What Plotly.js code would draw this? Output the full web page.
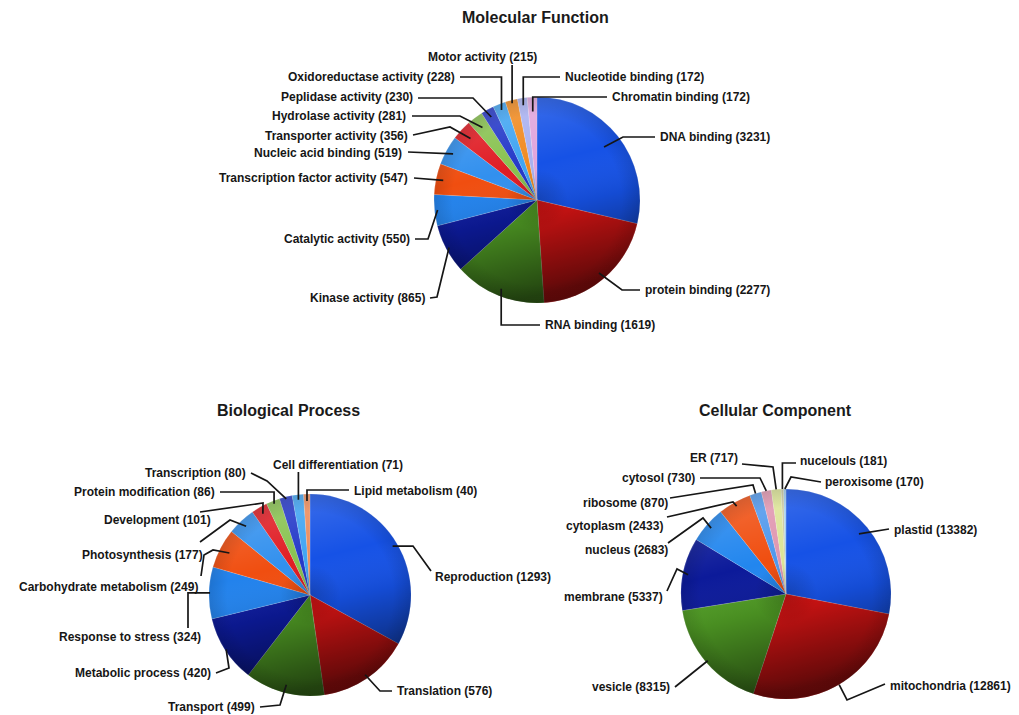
<!DOCTYPE html>
<html>
<head>
<meta charset="utf-8">
<script src="https://cdn.plot.ly/plotly-3.0.1.min.js"></script>
<style>
  html, body { margin: 0; padding: 0; background: #ffffff; }
  #chart { width: 1019px; height: 715px; }
</style>
</head>
<body>
<div id="chart"></div>
<script>
// ---- Data: GO category counts ----
const mfLabels = ['DNA binding', 'protein binding', 'RNA binding', 'Kinase activity', 'Catalytic activity',
  'Transcription factor activity', 'Nucleic acid binding', 'Transporter activity', 'Hydrolase activity',
  'Peplidase activity', 'Oxidoreductase activity', 'Motor activity', 'Nucleotide binding', 'Chromatin binding'];
const mfValues = [3231, 2277, 1619, 865, 550, 547, 519, 356, 281, 230, 228, 215, 172, 172];

const bpLabels = ['Reproduction', 'Translation', 'Transport', 'Metabolic process', 'Response to stress',
  'Carbohydrate metabolism', 'Photosynthesis', 'Development', 'Protein modification', 'Transcription',
  'Cell differentiation', 'Lipid metabolism'];
const bpValues = [1293, 576, 499, 420, 324, 249, 177, 101, 86, 80, 71, 40];

const ccLabels = ['plastid', 'mitochondria', 'vesicle', 'membrane', 'nucleus', 'cytoplasm', 'ribosome',
  'cytosol', 'ER', 'nucelouls', 'peroxisome'];
const ccValues = [13382, 12861, 8315, 5337, 2683, 2433, 870, 730, 717, 181, 170];

const panelTitles = ['Molecular Function', 'Biological Process', 'Cellular Component'];

// ---- Styles ----
const mfColors = ['#1652e6', '#d81414', '#4f9a24', '#0c1a9a', '#2282ec', '#f04e10', '#3290ee', '#e01c24',
  '#88c250', '#2438c8', '#40a4f2', '#f08a20', '#a8b0f0', '#e0a4dc'];
const bpColors = ['#1652e6', '#d81414', '#4f9a24', '#0c1a9a', '#2282ec', '#f04e10', '#3290ee', '#e01c24',
  '#88c250', '#2438c8', '#40a4f2', '#ec8c5c'];
const ccColors = ['#1652e6', '#d81414', '#4f9a24', '#0c1a9a', '#2286ee', '#f04e10', '#5098ec', '#e096b0',
  '#dce496', '#c8c8a0', '#98c8ee'];

const W = 1019, H = 715;
const FONT = 'Liberation Sans, Arial, Helvetica, sans-serif';

// pie placement in pixels (centre and radius)
const pies = [
  { cx: 537, cy: 200, r: 103 },
  { cx: 310, cy: 595, r: 101 },
  { cx: 786, cy: 594, r: 105 }
];
const titlePos = [[535, 17], [288, 410], [775, 410]];

// label placement: text position, side the text hangs from, leader start, bends, depth into slice
// 'ax' in a bend means "x of the slice anchor", 'ay' means "y of the slice anchor"
const mfPlace = [
  { tx: 658, ty: 137, side: 'left',  s: [655, 137], via: [[623, 137]], f: 0.83 },
  { tx: 643, ty: 290, side: 'left',  s: [640, 290], via: [[622, 290]], f: 0.93 },
  { tx: 543, ty: 325, side: 'left',  s: [540, 325], via: [['ax', 325]], f: 0.93 },
  { tx: 427, ty: 298, side: 'right', s: [430, 298], via: [[437, 297]], f: 0.97 },
  { tx: 412, ty: 239, side: 'right', s: [415, 239], via: [[428, 239]], f: 0.97 },
  { tx: 410, ty: 178, side: 'right', s: [414, 178], via: [], f: 0.93 },
  { tx: 404, ty: 153, side: 'right', s: [408, 152], via: [], f: 0.93 },
  { tx: 410, ty: 136, side: 'right', s: [413, 135], via: [[450, 127]], f: 0.88 },
  { tx: 408, ty: 116, side: 'right', s: [412, 116], via: [[460, 116]], f: 0.88 },
  { tx: 415, ty: 97,  side: 'right', s: [418, 98],  via: [[473, 98]], f: 0.92 },
  { tx: 457, ty: 77,  side: 'right', s: [460, 77],  via: [['ax', 77]], f: 0.94 },
  { tx: 482, ty: 57,  side: 'center', s: ['ax', 65], via: [], f: 0.97 },
  { tx: 563, ty: 77,  side: 'left',  s: [560, 77],  via: [['ax', 77]], f: 0.93 },
  { tx: 610, ty: 97,  side: 'left',  s: [607, 97],  via: [['ax', 97]], f: 0.86 }
];
const bpPlace = [
  { tx: 433, ty: 577, side: 'left',  s: [431, 571], via: [[413, 546]], f: 0.95 },
  { tx: 395, ty: 691, side: 'left',  s: [392, 691], via: [[380, 691]], f: 0.96 },
  { tx: 257, ty: 707, side: 'right', s: [260, 707], via: [[280, 705]], f: 0.92 },
  { tx: 213, ty: 673, side: 'right', s: [216, 673], via: [[229, 668]], f: 0.99 },
  { tx: 203, ty: 637, side: 'right', s: [188, 628], via: [[188, 'ay']], f: 0.99 },
  { tx: 200, ty: 587, side: 'right', s: [201, 576], via: [[204, 555], [213, 550]], f: 0.9 },
  { tx: 205, ty: 555, side: 'right', s: [200, 542], via: [[230, 520]], f: 0.93 },
  { tx: 213, ty: 520, side: 'right', s: [200, 512], via: [[263, 503]], f: 0.93 },
  { tx: 217, ty: 492, side: 'right', s: [220, 492], via: [['ax', 492]], f: 0.97 },
  { tx: 248, ty: 473, side: 'right', s: [251, 473], via: [[267, 481]], f: 0.98 },
  { tx: 338, ty: 465, side: 'center', s: ['ax', 472], via: [], f: 0.95 },
  { tx: 352, ty: 491, side: 'left',  s: [349, 490], via: [['ax', 490]], f: 0.93 }
];
const ccPlace = [
  { tx: 892, ty: 530, side: 'left',  s: [889, 529], via: [], f: 0.9 },
  { tx: 888, ty: 686, side: 'left',  s: [885, 684], via: [[847, 700]], f: 1.0 },
  { tx: 672, ty: 687, side: 'right', s: [675, 687], via: [], f: 0.98 },
  { tx: 665, ty: 597, side: 'right', s: [667, 591], via: [[677, 569]], f: 0.95 },
  { tx: 670, ty: 550, side: 'right', s: [668, 543], via: [[703, 518]], f: 0.95 },
  { tx: 665, ty: 526, side: 'right', s: [667, 517], via: [[733, 502]], f: 0.96 },
  { tx: 670, ty: 503, side: 'right', s: [670, 498], via: [[753, 485]], f: 1.0 },
  { tx: 697, ty: 478, side: 'right', s: [700, 478], via: [[760, 478]], f: 1.0 },
  { tx: 740, ty: 458, side: 'right', s: [742, 464], via: [[773, 467]], f: 1.0 },
  { tx: 798, ty: 461, side: 'left',  s: [796, 463], via: [['ax', 463]], f: 1.0 },
  { tx: 823, ty: 482, side: 'left',  s: [821, 482], via: [[791, 477]], f: 1.0 }
];

const panels = [
  { labels: mfLabels, values: mfValues, colors: mfColors, place: mfPlace },
  { labels: bpLabels, values: bpValues, colors: bpColors, place: bpPlace },
  { labels: ccLabels, values: ccValues, colors: ccColors, place: ccPlace }
];

const px = x => x / W;
const py = y => 1 - y / H;

// point inside each slice, along the middle of its angle (clockwise from 12 o'clock)
function sliceAnchors(values, pie, place) {
  const total = values.reduce((a, b) => a + b, 0);
  let cum = 0;
  return values.map((v, i) => {
    const mid = (cum + v / 2) / total * 2 * Math.PI;
    cum += v;
    const rr = place[i].f * pie.r;
    return [pie.cx + rr * Math.sin(mid), pie.cy - rr * Math.cos(mid)];
  });
}

function resolve(pt, a) {
  return [pt[0] === 'ax' ? a[0] : pt[0], pt[1] === 'ay' ? a[1] : pt[1]];
}

// soft lighting laid over each pie
const shadeSvg =
  "<svg xmlns='http://www.w3.org/2000/svg' width='200' height='200' viewBox='0 0 200 200'>" +
  "<defs>" +
  "<linearGradient id='g' x1='0.1' y1='0' x2='0.35' y2='1'>" +
  "<stop offset='0' stop-color='#ffffff' stop-opacity='0.20'/>" +
  "<stop offset='0.4' stop-color='#ffffff' stop-opacity='0'/>" +
  "<stop offset='0.62' stop-color='#000000' stop-opacity='0.08'/>" +
  "<stop offset='1' stop-color='#000000' stop-opacity='0.55'/>" +
  "</linearGradient>" +
  "<radialGradient id='v' cx='0.5' cy='0.5' r='0.5'>" +
  "<stop offset='0' stop-color='#000000' stop-opacity='0.18'/>" +
  "<stop offset='0.3' stop-color='#000000' stop-opacity='0'/>" +
  "<stop offset='0.82' stop-color='#000000' stop-opacity='0'/>" +
  "<stop offset='1' stop-color='#000000' stop-opacity='0.12'/>" +
  "</radialGradient>" +
  "</defs>" +
  "<circle cx='100' cy='100' r='100' fill='url(#g)'/>" +
  "<circle cx='100' cy='100' r='100' fill='url(#v)'/>" +
  "</svg>";
const shadeSrc = 'data:image/svg+xml;charset=utf-8,' + encodeURIComponent(shadeSvg);

const traces = [];
const annotations = [];
const shapes = [];
const images = [];

panels.forEach((p, k) => {
  const pie = pies[k];
  traces.push({
    type: 'pie',
    labels: p.labels,
    values: p.values,
    sort: false,
    direction: 'clockwise',
    rotation: 0,
    textinfo: 'none',
    hoverinfo: 'label+value',
    showlegend: false,
    marker: { colors: p.colors, line: { color: 'rgba(255,255,255,0.3)', width: 0.5 } },
    domain: {
      x: [px(pie.cx - pie.r), px(pie.cx + pie.r)],
      y: [py(pie.cy + pie.r), py(pie.cy - pie.r)]
    }
  });

  images.push({
    source: shadeSrc, xref: 'paper', yref: 'paper',
    x: px(pie.cx - pie.r), y: py(pie.cy - pie.r),
    sizex: 2 * pie.r / W, sizey: 2 * pie.r / H,
    xanchor: 'left', yanchor: 'top', sizing: 'stretch', layer: 'above'
  });

  annotations.push({
    text: panelTitles[k], xref: 'paper', yref: 'paper',
    x: px(titlePos[k][0]), y: py(titlePos[k][1]),
    xanchor: 'center', yanchor: 'middle', showarrow: false,
    font: { family: FONT, size: 16, color: '#1a1a1a', weight: 'bold' }
  });

  const anchors = sliceAnchors(p.values, pie, p.place);
  p.labels.forEach((lab, i) => {
    const pl = p.place[i];
    annotations.push({
      text: lab + ' (' + p.values[i] + ')',
      xref: 'paper', yref: 'paper',
      x: px(pl.tx), y: py(pl.ty),
      xanchor: pl.side, yanchor: 'middle', showarrow: false,
      font: { family: FONT, size: 12, color: '#161616', weight: 'bold' }
    });
    const a = anchors[i];
    const pts = [resolve(pl.s, a)].concat(pl.via.map(v => resolve(v, a))).concat([a]);
    const d = pts.map((q, j) => (j === 0 ? 'M' : 'L') + px(q[0]).toFixed(5) + ',' + py(q[1]).toFixed(5)).join(' ');
    shapes.push({
      type: 'path', xref: 'paper', yref: 'paper', path: d,
      line: { color: '#161616', width: 1.7 }, layer: 'above'
    });
  });
});

const layout = {
  width: W, height: H,
  margin: { l: 0, r: 0, t: 0, b: 0 },
  paper_bgcolor: '#ffffff',
  plot_bgcolor: '#ffffff',
  showlegend: false,
  annotations: annotations,
  shapes: shapes,
  images: images
};

Plotly.newPlot('chart', traces, layout, { displayModeBar: false, staticPlot: true });
</script>
</body>
</html>
